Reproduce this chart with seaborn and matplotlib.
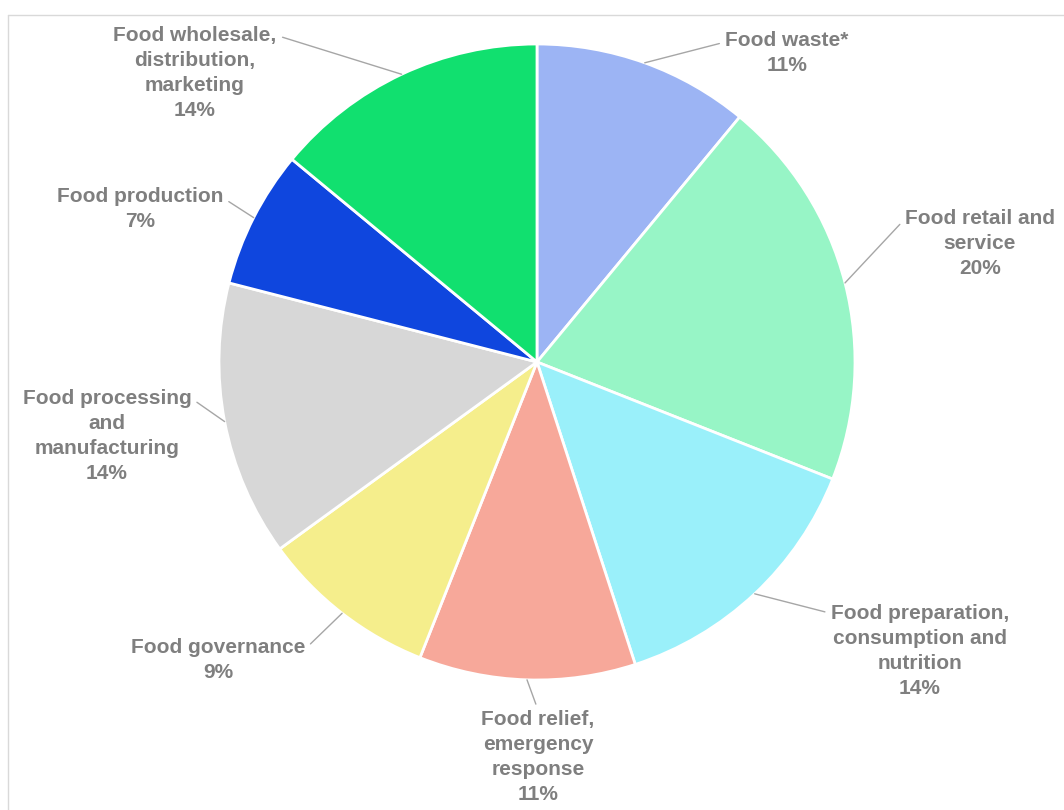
import matplotlib
matplotlib.use("Agg")
import matplotlib.pyplot as plt
import seaborn as sns
import numpy as np
from matplotlib.lines import Line2D

# Share of activities by food system sector
categories = [
    "Food waste*",
    "Food retail and\nservice",
    "Food preparation,\nconsumption and\nnutrition",
    "Food relief,\nemergency\nresponse",
    "Food governance",
    "Food processing\nand\nmanufacturing",
    "Food production",
    "Food wholesale,\ndistribution,\nmarketing",
]
shares = [11, 20, 14, 11, 9, 14, 7, 14]
colors = ["#9CB4F4", "#97F5C6", "#9AF0FA", "#F7A89A",
          "#F5EE8C", "#D7D7D7", "#0F46DE", "#11E06F"]

sns.set_theme(style="white")
plt.rcParams["font.family"] = ["Liberation Sans", "DejaVu Sans"]

W, H = 1064, 810
cx, cy, R = 537, 362, 318  # pie centre and radius in pixels

fig = plt.figure(figsize=(W / 100, H / 100), dpi=100)
ax = fig.add_axes([0, 0, 1, 1])

wedges, _ = ax.pie(shares, colors=sns.color_palette(colors), startangle=90,
                   counterclock=False, radius=1.0,
                   wedgeprops=dict(edgecolor="white", linewidth=2))

# pie() resets the limits, so set them afterwards
ax.set_xlim(-cx / R, (W - cx) / R)
ax.set_ylim(-(H - cy) / R, cy / R)
ax.set_aspect("equal")
ax.axis("off")

# label block centres (pixels) and which corner the leader leaves from
label_px = [(787, 53), (980, 243), (920, 651), (538, 757),
            (218, 660), (107, 436), (140, 209), (195, 73)]
relpos = [(0, 0.75), (0, 0.85), (0, 0.9), (0.5, 1.0),
          (1, 0.75), (1, 0.9), (1, 0.75), (1, 0.9)]

for w, cat, val, (px, py), rp in zip(wedges, categories, shares, label_px, relpos):
    mid = np.deg2rad((w.theta1 + w.theta2) / 2)
    xy = (np.cos(mid), np.sin(mid))
    xt = ((px - cx) / R, (cy - py) / R)
    ax.annotate(f"{cat}\n{val}%", xy=xy, xytext=xt, ha="center", va="center",
                fontsize=15, fontweight="bold", color="#7F7F7F",
                linespacing=1.4,
                arrowprops=dict(arrowstyle="-", color="#A6A6A6", lw=1,
                                relpos=rp, shrinkA=2, shrinkB=0))

# light frame like the source screenshot
fig.add_artist(Line2D([8 / W, 8 / W], [0, 1 - 15 / H], color="#D9D9D9", lw=1))
fig.add_artist(Line2D([8 / W, 1], [1 - 15 / H, 1 - 15 / H], color="#D9D9D9", lw=1))

fig.savefig("out.png", dpi=100, facecolor="white")
